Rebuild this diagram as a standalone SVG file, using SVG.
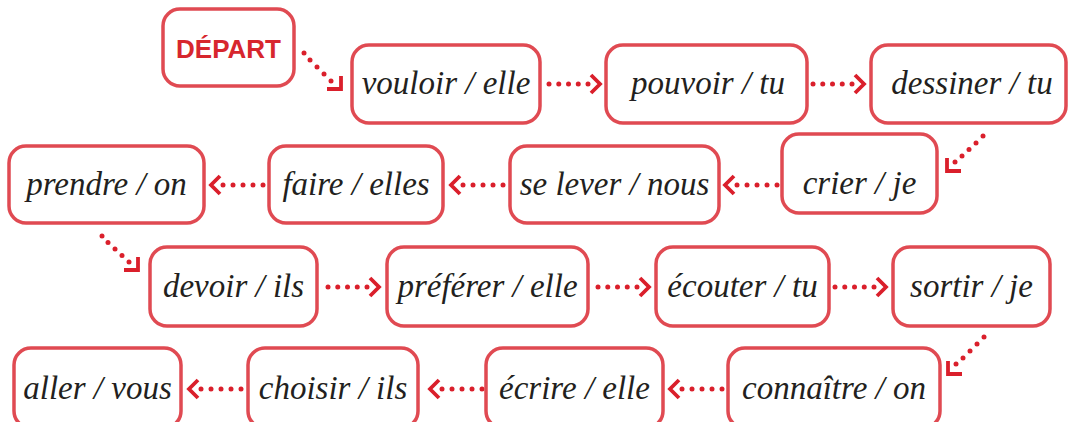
<svg xmlns="http://www.w3.org/2000/svg" width="1068" height="422" viewBox="0 0 1068 422">
<style>
.box{fill:#fff;stroke:#e04a52;stroke-width:3.5}
.lbl{font-family:"Liberation Serif","DejaVu Serif",serif;font-style:italic;font-size:33px;fill:#231f20;text-anchor:middle}
.start{font-family:"Liberation Sans","DejaVu Sans",sans-serif;font-weight:bold;font-size:26px;fill:#d7262e;text-anchor:middle}
.dot{fill:#da1f2b}
.chev{fill:none;stroke:#da1f2b;stroke-width:3.8;stroke-linecap:butt;stroke-linejoin:miter}
</style>
<rect width="1068" height="422" fill="#fff"/>
<g id="connectors">
  <!-- DÉPART -> vouloir -->
  <g><circle class="dot" cx="304" cy="53" r="2.5"/><circle class="dot" cx="310" cy="60" r="2.5"/><circle class="dot" cx="317" cy="67" r="2.5"/><circle class="dot" cx="324" cy="74" r="2.5"/><circle class="dot" cx="331" cy="81" r="2.5"/><polyline class="chev" points="341,76 341,89 327,89"/></g>
  <!-- vouloir -> pouvoir -->
  <g><circle class="dot" cx="549" cy="84" r="2.5"/><circle class="dot" cx="558.75" cy="84" r="2.5"/><circle class="dot" cx="568.5" cy="84" r="2.5"/><circle class="dot" cx="578.25" cy="84" r="2.5"/><circle class="dot" cx="588" cy="84" r="2.5"/><polyline class="chev" points="591,75 600,84 591,93"/></g>
  <!-- pouvoir -> dessiner -->
  <g><circle class="dot" cx="813" cy="84" r="2.5"/><circle class="dot" cx="822.75" cy="84" r="2.5"/><circle class="dot" cx="832.5" cy="84" r="2.5"/><circle class="dot" cx="842.25" cy="84" r="2.5"/><circle class="dot" cx="852" cy="84" r="2.5"/><polyline class="chev" points="855,75 864,84 855,93"/></g>
  <!-- dessiner -> crier -->
  <g><circle class="dot" cx="983" cy="136" r="2.5"/><circle class="dot" cx="976" cy="143" r="2.5"/><circle class="dot" cx="969" cy="149.5" r="2.5"/><circle class="dot" cx="962" cy="156" r="2.5"/><circle class="dot" cx="955" cy="162" r="2.5"/><polyline class="chev" points="947,158 947,171 961,171"/></g>
  <!-- crier -> se lever -->
  <g><circle class="dot" cx="737" cy="185" r="2.5"/><circle class="dot" cx="747" cy="185" r="2.5"/><circle class="dot" cx="757" cy="185" r="2.5"/><circle class="dot" cx="767" cy="185" r="2.5"/><circle class="dot" cx="777" cy="185" r="2.5"/><polyline class="chev" points="734,176 725,185 734,194"/></g>
  <!-- se lever -> faire -->
  <g><circle class="dot" cx="463" cy="185" r="2.5"/><circle class="dot" cx="473" cy="185" r="2.5"/><circle class="dot" cx="483" cy="185" r="2.5"/><circle class="dot" cx="493" cy="185" r="2.5"/><circle class="dot" cx="503" cy="185" r="2.5"/><polyline class="chev" points="460,176 451,185 460,194"/></g>
  <!-- faire -> prendre -->
  <g><circle class="dot" cx="223" cy="185" r="2.5"/><circle class="dot" cx="233" cy="185" r="2.5"/><circle class="dot" cx="243" cy="185" r="2.5"/><circle class="dot" cx="253" cy="185" r="2.5"/><circle class="dot" cx="263" cy="185" r="2.5"/><polyline class="chev" points="220,176 211,185 220,194"/></g>
  <!-- prendre -> devoir -->
  <g><circle class="dot" cx="102" cy="236" r="2.5"/><circle class="dot" cx="108" cy="242.5" r="2.5"/><circle class="dot" cx="115" cy="249" r="2.5"/><circle class="dot" cx="122" cy="255.5" r="2.5"/><circle class="dot" cx="129" cy="262" r="2.5"/><polyline class="chev" points="138,257 138,270 124,270"/></g>
  <!-- devoir -> préférer -->
  <g><circle class="dot" cx="328" cy="287" r="2.5"/><circle class="dot" cx="337.75" cy="287" r="2.5"/><circle class="dot" cx="347.5" cy="287" r="2.5"/><circle class="dot" cx="357.25" cy="287" r="2.5"/><circle class="dot" cx="367" cy="287" r="2.5"/><polyline class="chev" points="370,278 379,287 370,296"/></g>
  <!-- préférer -> écouter -->
  <g><circle class="dot" cx="598" cy="287" r="2.5"/><circle class="dot" cx="607.75" cy="287" r="2.5"/><circle class="dot" cx="617.5" cy="287" r="2.5"/><circle class="dot" cx="627.25" cy="287" r="2.5"/><circle class="dot" cx="637" cy="287" r="2.5"/><polyline class="chev" points="640,278 649,287 640,296"/></g>
  <!-- écouter -> sortir -->
  <g><circle class="dot" cx="835" cy="287" r="2.5"/><circle class="dot" cx="844.75" cy="287" r="2.5"/><circle class="dot" cx="854.5" cy="287" r="2.5"/><circle class="dot" cx="864.25" cy="287" r="2.5"/><circle class="dot" cx="874" cy="287" r="2.5"/><polyline class="chev" points="877,278 886,287 877,296"/></g>
  <!-- sortir -> connaître -->
  <g><circle class="dot" cx="984" cy="337" r="2.5"/><circle class="dot" cx="977" cy="344" r="2.5"/><circle class="dot" cx="970" cy="351" r="2.5"/><circle class="dot" cx="963" cy="358" r="2.5"/><circle class="dot" cx="956" cy="364" r="2.5"/><polyline class="chev" points="948,361 948,374 962,374"/></g>
  <!-- connaître -> écrire -->
  <g><circle class="dot" cx="682" cy="389" r="2.5"/><circle class="dot" cx="692" cy="389" r="2.5"/><circle class="dot" cx="702" cy="389" r="2.5"/><circle class="dot" cx="712" cy="389" r="2.5"/><circle class="dot" cx="722" cy="389" r="2.5"/><polyline class="chev" points="679,380 670,389 679,398"/></g>
  <!-- écrire -> choisir -->
  <g><circle class="dot" cx="442" cy="389" r="2.5"/><circle class="dot" cx="452" cy="389" r="2.5"/><circle class="dot" cx="462" cy="389" r="2.5"/><circle class="dot" cx="472" cy="389" r="2.5"/><circle class="dot" cx="482" cy="389" r="2.5"/><polyline class="chev" points="439,380 430,389 439,398"/></g>
  <!-- choisir -> aller -->
  <g><circle class="dot" cx="201" cy="389" r="2.5"/><circle class="dot" cx="211" cy="389" r="2.5"/><circle class="dot" cx="221" cy="389" r="2.5"/><circle class="dot" cx="231" cy="389" r="2.5"/><circle class="dot" cx="241" cy="389" r="2.5"/><polyline class="chev" points="198,380 189,389 198,398"/></g>
</g>
<g id="depart"><rect class="box" x="163" y="9" width="131" height="77" rx="17"/><text class="start" x="228.5" y="57.5">DÉPART</text></g>
<g id="vouloir"><rect class="box" x="352" y="45" width="188" height="78" rx="17"/><text class="lbl" x="446" y="94">vouloir / elle</text></g>
<g id="pouvoir"><rect class="box" x="606" y="45" width="201" height="78" rx="17"/><text class="lbl" x="708" y="94">pouvoir / tu</text></g>
<g id="dessiner"><rect class="box" x="871" y="45" width="195" height="78" rx="17"/><text class="lbl" x="972" y="94">dessiner / tu</text></g>
<g id="crier"><rect class="box" x="782" y="134" width="155" height="79" rx="17"/><text class="lbl" x="859.5" y="194">crier / je</text></g>
<g id="selever"><rect class="box" x="510" y="146" width="209" height="77" rx="17"/><text class="lbl" x="614.5" y="195">se lever / nous</text></g>
<g id="faire"><rect class="box" x="269" y="146" width="174" height="77" rx="17"/><text class="lbl" x="356" y="195">faire / elles</text></g>
<g id="prendre"><rect class="box" x="9" y="146" width="195" height="77" rx="17"/><text class="lbl" x="106.5" y="195">prendre / on</text></g>
<g id="devoir"><rect class="box" x="150" y="247" width="167" height="79" rx="17"/><text class="lbl" x="233.5" y="297">devoir / ils</text></g>
<g id="preferer"><rect class="box" x="387" y="247" width="201" height="79" rx="17"/><text class="lbl" x="487.5" y="297">préférer / elle</text></g>
<g id="ecouter"><rect class="box" x="656" y="247" width="173" height="79" rx="17"/><text class="lbl" x="742.5" y="297">écouter / tu</text></g>
<g id="sortir"><rect class="box" x="893" y="247" width="157" height="79" rx="17"/><text class="lbl" x="971.5" y="297">sortir / je</text></g>
<g id="connaitre"><rect class="box" x="728" y="348" width="212" height="80" rx="17"/><text class="lbl" x="834" y="399">connaître / on</text></g>
<g id="ecrire"><rect class="box" x="486" y="348" width="177" height="80" rx="17"/><text class="lbl" x="574.5" y="399">écrire / elle</text></g>
<g id="choisir"><rect class="box" x="248" y="348" width="170" height="80" rx="17"/><text class="lbl" x="333" y="399">choisir / ils</text></g>
<g id="aller"><rect class="box" x="14" y="348" width="167" height="80" rx="17"/><text class="lbl" x="97.5" y="399">aller / vous</text></g>
</svg>
